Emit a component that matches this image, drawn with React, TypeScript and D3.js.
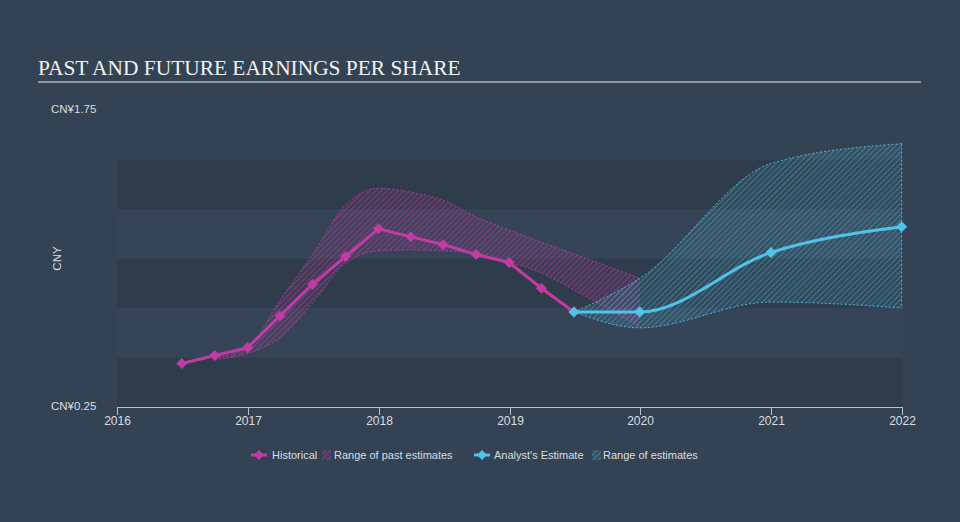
import React from "react";
import * as d3 from "d3";

const W = 960;
const H = 522;

const histDates = ["2016-06-30","2016-09-30","2016-12-31","2017-03-31","2017-06-30","2017-09-30","2017-12-31","2018-03-31","2018-06-30","2018-09-30","2018-12-31","2019-03-31","2019-06-30"];
const histValues = [0.47, 0.51, 0.55, 0.71, 0.87, 1.01, 1.15, 1.11, 1.07, 1.02, 0.98, 0.85, 0.73];

const pastRangeDates = ["2016-09-30","2016-12-31","2017-03-31","2017-06-30","2017-09-30","2017-12-31","2018-03-31","2018-06-30","2018-09-30","2018-12-31","2019-03-31","2019-06-30","2019-09-30","2019-12-31"];
const pastHigh = [0.50, 0.55, 0.79, 1.02, 1.27, 1.355, 1.335, 1.295, 1.21, 1.144, 1.083, 1.023, 0.962, 0.90];
const pastLow = [0.49, 0.52, 0.60, 0.775, 0.975, 1.038, 1.043, 1.038, 1.028, 0.982, 0.927, 0.841, 0.75, 0.654];

const estDates = ["2019-06-30","2019-12-31","2020-12-31","2021-12-31"];
const estValues = [0.73, 0.73, 1.03, 1.16];
const estHigh = [0.73, 0.90, 1.48, 1.58];
const estLow = [0.73, 0.65, 0.78, 0.75];

const xTicks = ["2016","2017","2018","2019","2020","2021","2022"];
const yTickLabels = ["CN¥0.25", "CN¥1.75"];
const yTickValues = [0.25, 1.75];
const bandEdges = [0.25, 0.5, 0.75, 1.0, 1.25, 1.5];

const HIST = "#c13ba3";
const EST = "#52c3e8";
const TEXT = "#d9dde2";
const FONT = "'Liberation Sans', Arial, sans-serif";

const parse = d3.timeParse("%Y-%m-%d");

export default function App() {
  const x = d3.scaleTime().domain([new Date(2016, 0, 1), new Date(2022, 0, 1)]).range([117, 902]);
  const y = d3.scaleLinear().domain([0.25, 1.75]).range([407, 110]);

  const hist = histDates.map((d, i) => ({ d: parse(d)!, v: histValues[i] }));
  const past = pastRangeDates.map((d, i) => ({ d: parse(d)!, hi: pastHigh[i], lo: pastLow[i] }));
  const est = estDates.map((d, i) => ({ d: parse(d)!, v: estValues[i], hi: estHigh[i], lo: estLow[i] }));

  const histLine = d3.line<any>().x(p => x(p.d)).y(p => y(p.v)).curve(d3.curveLinear);
  const estLine = d3.line<any>().x(p => x(p.d)).y(p => y(p.v)).curve(d3.curveMonotoneX);
  const areaGen = d3.area<any>().x(p => x(p.d)).y0(p => y(p.lo)).y1(p => y(p.hi)).curve(d3.curveMonotoneX);
  const hiLine = d3.line<any>().x(p => x(p.d)).y(p => y(p.hi)).curve(d3.curveMonotoneX);
  const loLine = d3.line<any>().x(p => x(p.d)).y(p => y(p.lo)).curve(d3.curveMonotoneX);

  const diamond = (cx: number, cy: number, r: number) => `M${cx},${cy - r}L${cx + r},${cy}L${cx},${cy + r}L${cx - r},${cy}Z`;

  const x0 = x.range()[0];
  const x1 = x.range()[1];

  return (
    <svg width={W} height={H} style={{ position: "absolute", left: 0, top: 0, display: "block" }}>
      <defs>
        <pattern id="hatchPink" patternUnits="userSpaceOnUse" width="4" height="4" patternTransform="rotate(45)">
          <rect width="4" height="4" fill={HIST} fillOpacity="0.12" />
          <line x1="0" y1="0" x2="0" y2="4" stroke={HIST} strokeWidth="1.2" strokeOpacity="0.75" />
        </pattern>
        <pattern id="hatchBlue" patternUnits="userSpaceOnUse" width="4" height="4" patternTransform="rotate(45)">
          <rect width="4" height="4" fill={EST} fillOpacity="0.1" />
          <line x1="0" y1="0" x2="0" y2="4" stroke={EST} strokeWidth="1.2" strokeOpacity="0.65" />
        </pattern>
      </defs>
      <rect x={0} y={0} width={W} height={H} fill="#344354" />
      {bandEdges.slice(0, -1).map((b, i) => (
        <rect key={i} x={x0} y={y(bandEdges[i + 1])} width={x1 - x0} height={y(b) - y(bandEdges[i + 1])}
          fill={i % 2 === 0 ? "#2f3c4c" : "#354456"} />
      ))}

      <text x={38} y={75} fill="#f2f2f2" fontFamily="'Liberation Serif', 'Times New Roman', serif" fontSize={21.4}>PAST AND FUTURE EARNINGS PER SHARE</text>
      <line x1={38} x2={921} y1={82} y2={82} stroke="#a9b0b8" strokeWidth={1.5} />

      {yTickValues.map((v, i) => (
        <text key={i} x={51} y={y(v) - 1.5} dy="0.35em" fill={TEXT} fontFamily={FONT} fontSize={11.5}>{yTickLabels[i]}</text>
      ))}
      <text transform={`translate(61,${(y(1.75) + y(0.25)) / 2}) rotate(-90)`} textAnchor="middle" fill={TEXT} fontFamily={FONT} fontSize={11.5}>CNY</text>

      <path d={areaGen(past) || ""} fill="url(#hatchPink)" />
      <path d={hiLine(past) || ""} fill="none" stroke={HIST} strokeWidth={1} strokeDasharray="2,2" strokeOpacity={0.8} />
      <path d={loLine(past) || ""} fill="none" stroke={HIST} strokeWidth={1} strokeDasharray="2,2" strokeOpacity={0.8} />
      <path d={areaGen(est) || ""} fill="url(#hatchBlue)" />
      <path d={hiLine(est) || ""} fill="none" stroke={EST} strokeWidth={1} strokeDasharray="2,2" strokeOpacity={0.85} />
      <path d={loLine(est) || ""} fill="none" stroke={EST} strokeWidth={1} strokeDasharray="2,2" strokeOpacity={0.85} />
      <line x1={x(est[est.length - 1].d)} x2={x(est[est.length - 1].d)} y1={y(estHigh[estHigh.length - 1])} y2={y(estLow[estLow.length - 1])} stroke={EST} strokeWidth={1} strokeDasharray="2,2" strokeOpacity={0.85} />

      <path d={histLine(hist) || ""} fill="none" stroke={HIST} strokeWidth={3} />
      {hist.map((p, i) => <path key={i} d={diamond(x(p.d), y(p.v), 5.5)} fill={HIST} />)}
      <path d={estLine(est) || ""} fill="none" stroke={EST} strokeWidth={3} />
      {est.map((p, i) => <path key={i} d={diamond(x(p.d), y(p.v), 5.5)} fill={EST} />)}

      <line x1={x0} x2={x1} y1={407.5} y2={407.5} stroke="#b8c2cc" strokeWidth={1} />
      {xTicks.map((t, i) => {
        const xx = Math.round(x(new Date(+t, 0, 1))) + 0.5;
        return (
          <g key={i}>
            <line x1={xx} x2={xx} y1={407} y2={415} stroke="#b8c2cc" strokeWidth={1} />
            <text x={xx} y={425} textAnchor="middle" fill={TEXT} fontFamily={FONT} fontSize={12}>{t}</text>
          </g>
        );
      })}

      <g fontFamily={FONT} fontSize={11} fill={TEXT}>
        <path d={diamond(259, 455, 5)} fill={HIST} />
        <line x1={251} x2={267} y1={455} y2={455} stroke={HIST} strokeWidth={3} />
        <text x={272} y={455} dy="0.35em">Historical</text>
        <rect x={322} y={450} width={9} height={10} fill="url(#hatchPink)" />
        <text x={334} y={455} dy="0.35em">Range of past estimates</text>
        <path d={diamond(482, 455, 5)} fill={EST} />
        <line x1={474} x2={490} y1={455} y2={455} stroke={EST} strokeWidth={3} />
        <text x={494} y={455} dy="0.35em">Analyst's Estimate</text>
        <rect x={592} y={450} width={9} height={10} fill="url(#hatchBlue)" />
        <text x={603} y={455} dy="0.35em">Range of estimates</text>
      </g>
    </svg>
  );
}
